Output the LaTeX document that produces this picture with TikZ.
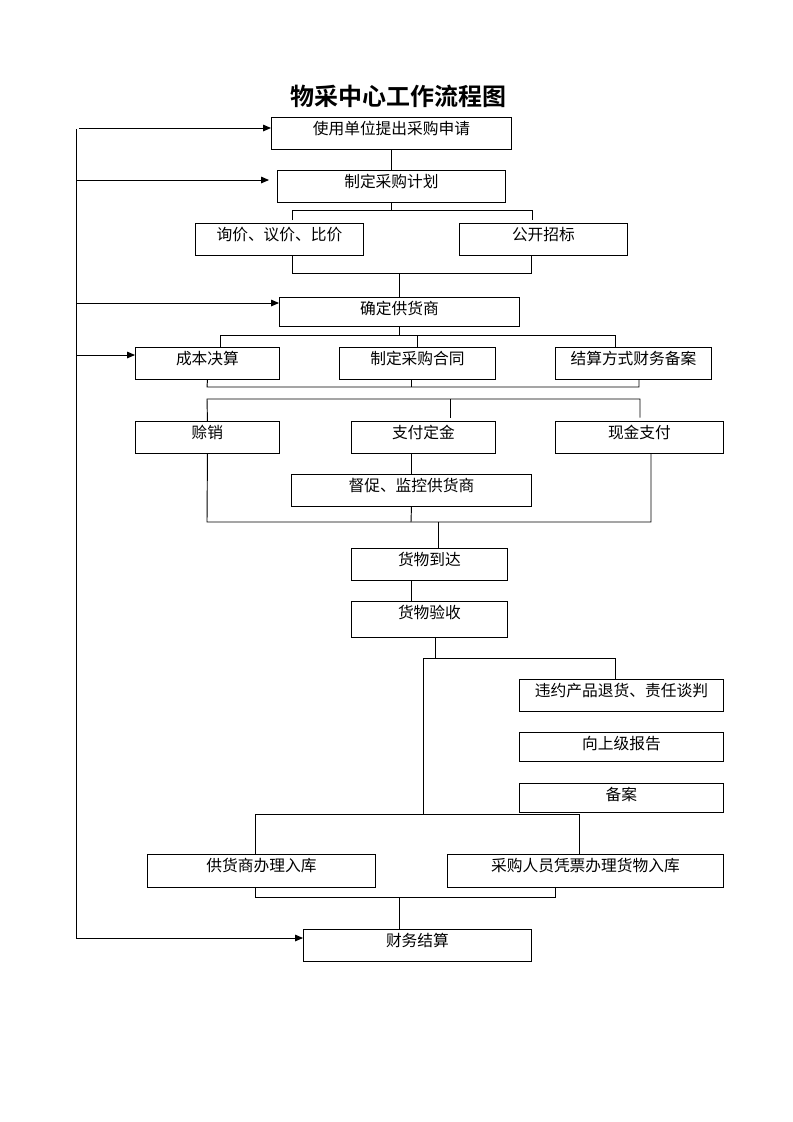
\documentclass[tikz,border=0pt]{standalone}
\usepackage{fontspec}
\setmainfont{Noto Sans CJK SC}[BoldFont={Noto Sans CJK SC Bold}]
\usepackage{tikz}
\usetikzlibrary{arrows.meta, positioning, calc}

\begin{document}
\begin{tikzpicture}[x=0.75pt, y=-0.75pt,
  box/.style={draw, line width=0.7pt, anchor=north west, inner xsep=0pt, inner ysep=1.5pt,
    text height=11pt, text depth=10pt, font=\fontsize{11.8pt}{14pt}\selectfont},
  link/.style={line width=0.7pt},
  feed/.style={line width=0.7pt, -{Triangle[length=6pt, width=5pt]}}]
  \useasboundingbox (0,0) rectangle (793,1122);

  % Title
  \node[font=\fontsize{18pt}{20pt}\selectfont\bfseries] (title) at (398,96) {物采中心工作流程图};

  % Request, plan, quotation
  \node[box, minimum width=180pt] (apply) at (271,117) {使用单位提出采购申请};
  \node[box, minimum width=171pt] (plan) at (277,170) {制定采购计划};
  \node[box, minimum width=126pt] (inquiry) at (195,223) {询价、议价、比价};
  \node[box, minimum width=126pt] (tender) at (459,223) {公开招标};
  \node[box, minimum width=180pt, text depth=7.75pt] (supplier) at (279,297) {确定供货商};

  % Contract row
  \node[box, minimum width=108pt] (cost) at (135,347) {成本决算};
  \node[box, minimum width=117pt] (contract) at (339,347) {制定采购合同};
  \node[box, minimum width=117pt] (settle) at (555,347) {结算方式财务备案};

  % Payment row
  \node[box, minimum width=108pt] (credit) at (135,421) {赊销};
  \node[box, minimum width=108pt] (deposit) at (351,421) {支付定金};
  \node[box, minimum width=126pt] (cash) at (555,421) {现金支付};
  \node[box, minimum width=180pt] (monitor) at (291,474) {督促、监控供货商};

  % Goods
  \node[box, minimum width=117pt] (arrive) at (351,548) {货物到达};
  \node[box, minimum width=117pt, text depth=13pt] (check) at (351,601) {货物验收};
  \node[box, minimum width=153pt] (refund) at (519,679) {违约产品退货、责任谈判};
  \node[box, minimum width=153pt, text depth=7.75pt] (report) at (519,732) {向上级报告};
  \node[box, minimum width=153pt, text depth=7.75pt] (record) at (519,783) {备案};
  \node[box, minimum width=171pt, text depth=10.75pt] (instock) at (147,854) {供货商办理入库};
  \node[box, minimum width=207pt, text depth=10.75pt] (buyerin) at (447,854) {采购人员凭票办理货物入库};
  \node[box, minimum width=171pt] (finance) at (303,929) {财务结算};

  % Plan to supplier
  \draw[link] (apply.south) -- (plan.north);
  \coordinate (pl) at (292,210);
  \coordinate (pr) at (532,210);
  \draw[link] (plan.south) -- (plan.south |- pl);
  \draw[link] ([yshift=-7.5pt]pl) -- (pl) -- (pr) -- ([yshift=-7.5pt]pr);
  \coordinate (ql) at (292,273);
  \coordinate (qr) at (531,273);
  \draw[link] (inquiry.south -| ql) -- (ql) -- (qr) -- (tender.south -| qr);
  \draw[link] (supplier.north) -- (supplier.north |- ql);

  % Supplier to contract row
  \coordinate (sl) at (220,335);
  \coordinate (sr) at (615,335);
  \draw[link] (supplier.south) -- (supplier.south |- sl);
  \draw[link] (cost.north -| sl) -- (sl) -- (sr) -- (settle.north -| sr);
  \draw[link] (contract.north) -- (contract.north |- sl);
  \coordinate (tl) at (207,387);
  \coordinate (tm) at (411,387);
  \coordinate (tr) at (639,387);
  \draw[link] (cost.south) -- (tl) -- (tr) -- (settle.south -| tr);
  \draw[link] (contract.south -| tm) -- (tm);

  % Payment row
  \coordinate (ul) at (207,399);
  \coordinate (um) at (450,399);
  \coordinate (ur) at (640,399);
  \draw[link] (credit.north) -- (ul) -- (ur) -- ([yshift=-14pt]ur);
  \draw[link] (um) -- ([yshift=-14pt]um);
  \coordinate (vl) at (207,522);
  \coordinate (vm) at (411,522);
  \coordinate (va) at (438,522);
  \coordinate (vr) at (651,522);
  \draw[link] (credit.south) -- (vl) -- (vr) -- (cash.south -| vr);
  \draw[link] (deposit.south -| vm) -- (monitor.north -| vm);
  \draw[link] (monitor.south) -- (vm);
  \draw[link] (va) -- (arrive.north -| va);

  % Arrival and check
  \draw[link] (arrive.south -| vm) -- (check.north -| vm);
  \coordinate (wc) at (435,658);
  \coordinate (wl) at (423,658);
  \coordinate (wr) at (615,658);
  \draw[link] (check.south -| wc) -- (wc);
  \draw[link] (wl) -- (wr) -- (refund.north -| wr);
  \coordinate (xl) at (255,814);
  \coordinate (xm) at (423,814);
  \coordinate (xr) at (579,814);
  \draw[link] (wl) -- (xm);
  \draw[link] (instock.north -| xl) -- (xl) -- (xr) -- (buyerin.north -| xr);
  \coordinate (yl) at (255,897);
  \coordinate (ym) at (399,897);
  \coordinate (yr) at (555,897);
  \draw[link] (instock.south -| yl) -- (yl) -- (yr) -- (buyerin.south -| yr);
  \draw[link] (ym) -- (finance.north -| ym);

  % Feedback line
  \draw[link] (76,129) -- (76,938);
  \foreach \n/\x/\y/\s in {apply/79/128/0pt, plan/76/180/6pt, supplier/76/303/0pt, cost/76/355/0pt, finance/76/938/0pt} {
    \coordinate (s) at (\x,\y);
    \draw[feed, shorten >=\s] (s) -- (s -| \n.west);
  }
\end{tikzpicture}
\end{document}
